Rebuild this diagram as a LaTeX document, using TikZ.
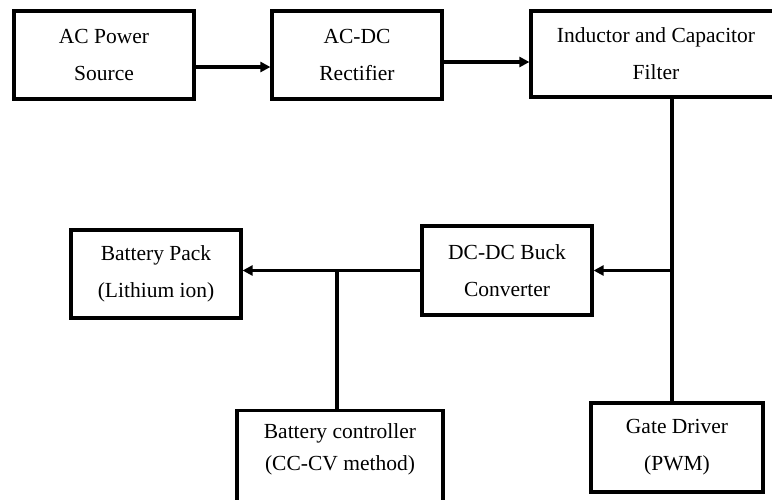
\documentclass[tikz,border=0pt]{standalone}
\usepackage{fontspec}
\setmainfont{Liberation Serif}
\usetikzlibrary{arrows.meta}
\begin{document}
\begin{tikzpicture}[x=1pt,y=-1pt,
  blk/.style={draw=black, line width=3.2pt, fill=white, inner sep=0pt, align=center,
    font={\fontsize{21.5}{37}\selectfont}},
  txt/.style={inner sep=0pt, align=center, font={\fontsize{21.5}{32}\selectfont}},
  wire/.style={draw=black, line width=3.2pt},
  arr/.style={wire, -{Triangle[length=10pt,width=10pt]}}]
\useasboundingbox (0,0) rectangle (772,499);
\clip (0,0) rectangle (772,499);
% top row
\node[blk, minimum width=180pt, minimum height=88pt] (ac) at (104,55) {AC Power\\Source};
\node[blk, minimum width=170pt, minimum height=88pt] (rect) at (357,55) {AC-DC\\Rectifier};
\node[blk, minimum width=250pt, minimum height=86pt] (filt) at (656,54) {Inductor and Capacitor\\Filter};
% middle row
\node[blk, minimum width=170pt, minimum height=89pt] (dcdc) at (507,270.5) {DC-DC Buck\\Converter};
\node[blk, minimum width=170pt, minimum height=88pt] (bp) at (156,274) {Battery Pack\\(Lithium ion)};
% bottom row
\node[blk, minimum width=206pt, minimum height=96pt, anchor=north] (bc) at (340,409) {};
\node[txt] (bct) at (340,449) {Battery controller\\(CC-CV method)};
\node[blk, minimum width=172pt, minimum height=89pt] (gd) at (677,447.5) {Gate Driver\\(PWM)};
% connectors
\coordinate (a1) at (0,67);
\coordinate (a2) at (0,62);
\draw[arr] (ac.east |- a1) -- (rect.west |- a1);
\draw[arr] (rect.east |- a2) -- (filt.west |- a2);
\coordinate (j1) at (672,270.5);
\draw[wire] (filt.south -| j1) -- (gd.north -| j1);
\draw[arr] (j1) -- (dcdc.east);
\draw[arr] (dcdc.west) -- (dcdc.west -| bp.east);
\coordinate (j2) at (337,270.5);
\draw[wire] (j2) -- (bc.north -| j2);
\end{tikzpicture}
\end{document}
